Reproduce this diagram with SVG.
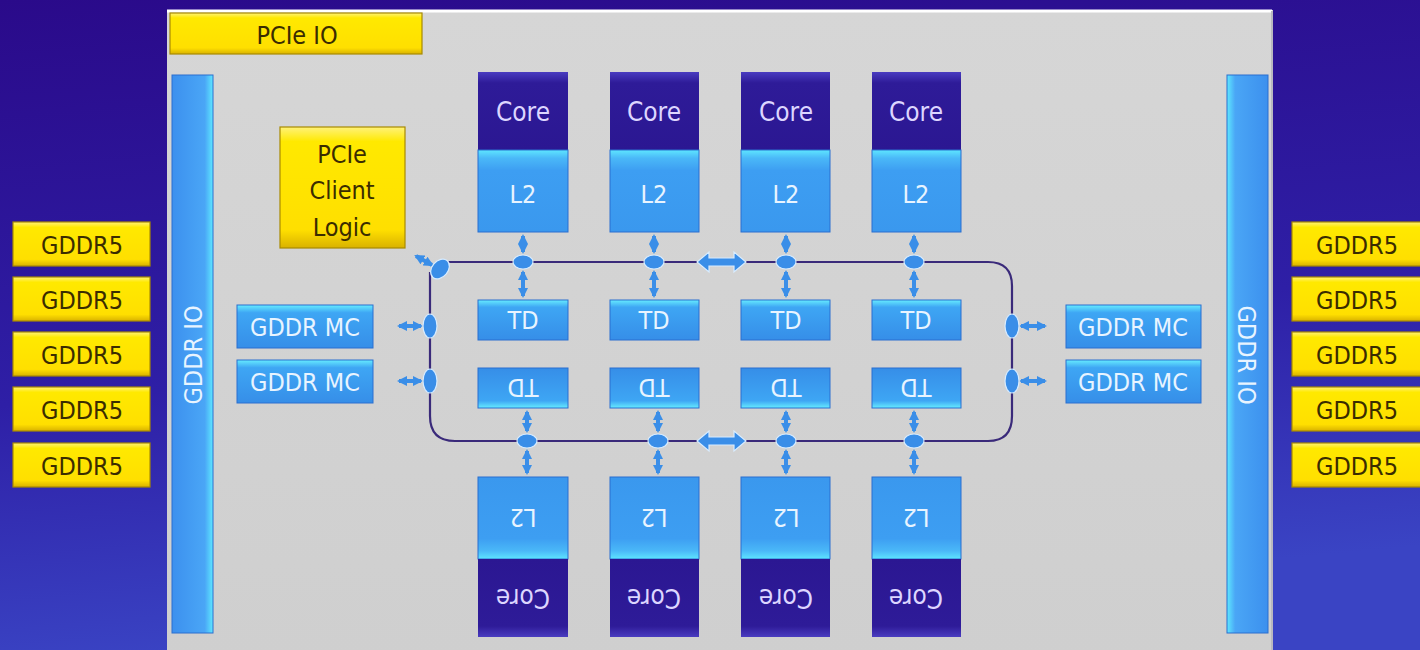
<svg xmlns="http://www.w3.org/2000/svg" width="1420" height="650" viewBox="0 0 1420 650">
<defs>
<linearGradient id="bg" x1="0" y1="0" x2="0.2" y2="1">
<stop offset="0" stop-color="#2a0a8a"/>
<stop offset="0.6" stop-color="#2e1fa6"/>
<stop offset="1" stop-color="#3a44c4"/>
</linearGradient>
<linearGradient id="die" x1="0" y1="0" x2="0" y2="1">
<stop offset="0" stop-color="#d6d6d6"/>
<stop offset="1" stop-color="#cfcfcf"/>
</linearGradient>
<linearGradient id="yel" x1="0" y1="0" x2="0" y2="1">
<stop offset="0" stop-color="#fff27a"/>
<stop offset="0.12" stop-color="#ffe900"/>
<stop offset="0.85" stop-color="#ffdf00"/>
<stop offset="1" stop-color="#d9b200"/>
</linearGradient>
<linearGradient id="core" x1="0" y1="0" x2="0" y2="1">
<stop offset="0" stop-color="#4a3cc0"/>
<stop offset="0.14" stop-color="#2e1b98"/>
<stop offset="1" stop-color="#2b1792"/>
</linearGradient>
<linearGradient id="coreB" x1="0" y1="1" x2="0" y2="0">
<stop offset="0" stop-color="#4a3cc0"/>
<stop offset="0.14" stop-color="#2e1b98"/>
<stop offset="1" stop-color="#2b1792"/>
</linearGradient>
<linearGradient id="l2" x1="0" y1="0" x2="0" y2="1">
<stop offset="0" stop-color="#5ee6ff"/>
<stop offset="0.1" stop-color="#4ab8f8"/>
<stop offset="0.25" stop-color="#3d9ef2"/>
<stop offset="1" stop-color="#3a98ee"/>
</linearGradient>
<linearGradient id="l2B" x1="0" y1="1" x2="0" y2="0">
<stop offset="0" stop-color="#5ee6ff"/>
<stop offset="0.1" stop-color="#4ab8f8"/>
<stop offset="0.25" stop-color="#3d9ef2"/>
<stop offset="1" stop-color="#3a98ee"/>
</linearGradient>
<linearGradient id="td" x1="0" y1="0" x2="0" y2="1">
<stop offset="0" stop-color="#66ecff"/>
<stop offset="0.18" stop-color="#3ea6f4"/>
<stop offset="1" stop-color="#368ee8"/>
</linearGradient>
<linearGradient id="tdB" x1="0" y1="1" x2="0" y2="0">
<stop offset="0" stop-color="#66ecff"/>
<stop offset="0.18" stop-color="#3ea6f4"/>
<stop offset="1" stop-color="#368ee8"/>
</linearGradient>
<linearGradient id="ioL" x1="0" y1="0" x2="1" y2="0">
<stop offset="0" stop-color="#3c90ee"/>
<stop offset="0.8" stop-color="#4aa6f6"/>
<stop offset="1" stop-color="#5ee8ff"/>
</linearGradient>
<linearGradient id="ioR" x1="0" y1="0" x2="1" y2="0">
<stop offset="0" stop-color="#5ee8ff"/>
<stop offset="0.2" stop-color="#4aa6f6"/>
<stop offset="1" stop-color="#3c90ee"/>
</linearGradient>
<marker id="ah" viewBox="0 0 10 10" refX="8" refY="5" markerWidth="10" markerHeight="10" markerUnits="userSpaceOnUse" orient="auto-start-reverse">
<path d="M0,0 L10,5 L0,10 Z" fill="#3a8ee8"/>
</marker>
<style>
.yb{fill:url(#yel);stroke:#a88a00;stroke-width:1.2}
.yt{font-family:"DejaVu Sans Condensed","DejaVu Sans",sans-serif;font-stretch:condensed;font-size:25px;fill:#3a2c00;text-anchor:middle}
.wt{font-family:"DejaVu Sans Condensed","DejaVu Sans",sans-serif;font-stretch:condensed;font-size:25px;fill:#e8f4ff;text-anchor:middle}
.ct{font-family:"DejaVu Sans Condensed","DejaVu Sans",sans-serif;font-stretch:condensed;font-size:26px;fill:#ddd6ff;text-anchor:middle}
.bs{stroke:#2a6fd0;stroke-width:1}
.ring{fill:none;stroke:#3a2a7a;stroke-width:2.2}
.arr{stroke:#3a8ee8;stroke-width:4;fill:none;marker-start:url(#ah);marker-end:url(#ah)}
.nub{fill:#3a8ee8;stroke:#d8ecff;stroke-width:1.2}
</style>
</defs>

<rect x="0" y="0" width="1420" height="650" fill="url(#bg)"/>

<g id="die">
<rect x="167" y="10" width="1106" height="645" fill="url(#die)"/>
<line x1="167" y1="11" x2="1272" y2="11" stroke="#ffffff" stroke-width="3"/>
<line x1="1272" y1="11" x2="1272" y2="650" stroke="#b8b8c0" stroke-width="2"/>
</g>

<g id="pcie-io">
<rect class="yb" x="170" y="13" width="252" height="41"/>
<text class="yt" x="297" y="44">PCIe IO</text>
</g>

<g id="gddr-io-left">
<rect x="172" y="75" width="41" height="558" fill="url(#ioL)" stroke="#2a6fd0" stroke-width="1"/>
<text class="wt" transform="translate(202,355) rotate(-90)" x="0" y="0">GDDR IO</text>
</g>
<g id="gddr-io-right">
<rect x="1227" y="75" width="41" height="558" fill="url(#ioR)" stroke="#2a6fd0" stroke-width="1"/>
<text class="wt" transform="translate(1238,355) rotate(90)" x="0" y="0">GDDR IO</text>
</g>

<g id="gddr5-left">
<rect class="yb" x="13" y="222" width="137" height="44"/><text class="yt" x="82" y="254">GDDR5</text>
<rect class="yb" x="13" y="277" width="137" height="44"/><text class="yt" x="82" y="309">GDDR5</text>
<rect class="yb" x="13" y="332" width="137" height="44"/><text class="yt" x="82" y="364">GDDR5</text>
<rect class="yb" x="13" y="387" width="137" height="44"/><text class="yt" x="82" y="419">GDDR5</text>
<rect class="yb" x="13" y="443" width="137" height="44"/><text class="yt" x="82" y="475">GDDR5</text>
</g>
<g id="gddr5-right">
<rect class="yb" x="1292" y="222" width="130" height="44"/><text class="yt" x="1357" y="254">GDDR5</text>
<rect class="yb" x="1292" y="277" width="130" height="44"/><text class="yt" x="1357" y="309">GDDR5</text>
<rect class="yb" x="1292" y="332" width="130" height="44"/><text class="yt" x="1357" y="364">GDDR5</text>
<rect class="yb" x="1292" y="387" width="130" height="44"/><text class="yt" x="1357" y="419">GDDR5</text>
<rect class="yb" x="1292" y="443" width="130" height="44"/><text class="yt" x="1357" y="475">GDDR5</text>
</g>

<g id="pcie-client-logic">
<rect class="yb" x="280" y="127" width="125" height="121"/>
<text class="yt" x="342" y="163">PCIe</text>
<text class="yt" x="342" y="199">Client</text>
<text class="yt" x="342" y="236">Logic</text>
</g>

<g id="core-top-1"><rect x="478" y="72" width="90" height="78" fill="url(#core)"/><rect class="bs" x="478" y="150" width="90" height="82" fill="url(#l2)"/><text class="ct" x="523" y="121">Core</text><text class="wt" x="523" y="203">L2</text></g>
<g id="core-top-2"><rect x="610" y="72" width="89" height="78" fill="url(#core)"/><rect class="bs" x="610" y="150" width="89" height="82" fill="url(#l2)"/><text class="ct" x="654" y="121">Core</text><text class="wt" x="654" y="203">L2</text></g>
<g id="core-top-3"><rect x="741" y="72" width="89" height="78" fill="url(#core)"/><rect class="bs" x="741" y="150" width="89" height="82" fill="url(#l2)"/><text class="ct" x="786" y="121">Core</text><text class="wt" x="786" y="203">L2</text></g>
<g id="core-top-4"><rect x="872" y="72" width="89" height="78" fill="url(#core)"/><rect class="bs" x="872" y="150" width="89" height="82" fill="url(#l2)"/><text class="ct" x="916" y="121">Core</text><text class="wt" x="916" y="203">L2</text></g>

<g id="td-top-1"><rect class="bs" x="478" y="300" width="90" height="40" fill="url(#td)"/><text class="wt" x="523" y="329">TD</text></g>
<g id="td-top-2"><rect class="bs" x="610" y="300" width="89" height="40" fill="url(#td)"/><text class="wt" x="654" y="329">TD</text></g>
<g id="td-top-3"><rect class="bs" x="741" y="300" width="89" height="40" fill="url(#td)"/><text class="wt" x="786" y="329">TD</text></g>
<g id="td-top-4"><rect class="bs" x="872" y="300" width="89" height="40" fill="url(#td)"/><text class="wt" x="916" y="329">TD</text></g>

<g id="td-bot-1"><rect class="bs" x="478" y="368" width="90" height="40" fill="url(#tdB)"/><text class="wt" transform="rotate(180 523 388)" x="523" y="397">TD</text></g>
<g id="td-bot-2"><rect class="bs" x="610" y="368" width="89" height="40" fill="url(#tdB)"/><text class="wt" transform="rotate(180 654 388)" x="654" y="397">TD</text></g>
<g id="td-bot-3"><rect class="bs" x="741" y="368" width="89" height="40" fill="url(#tdB)"/><text class="wt" transform="rotate(180 786 388)" x="786" y="397">TD</text></g>
<g id="td-bot-4"><rect class="bs" x="872" y="368" width="89" height="40" fill="url(#tdB)"/><text class="wt" transform="rotate(180 916 388)" x="916" y="397">TD</text></g>

<g id="core-bot-1"><rect class="bs" x="478" y="477" width="90" height="82" fill="url(#l2B)"/><rect x="478" y="559" width="90" height="78" fill="url(#coreB)"/><text class="wt" transform="rotate(180 523 518)" x="523" y="527">L2</text><text class="ct" transform="rotate(180 523 598)" x="523" y="607">Core</text></g>
<g id="core-bot-2"><rect class="bs" x="610" y="477" width="89" height="82" fill="url(#l2B)"/><rect x="610" y="559" width="89" height="78" fill="url(#coreB)"/><text class="wt" transform="rotate(180 654 518)" x="654" y="527">L2</text><text class="ct" transform="rotate(180 654 598)" x="654" y="607">Core</text></g>
<g id="core-bot-3"><rect class="bs" x="741" y="477" width="89" height="82" fill="url(#l2B)"/><rect x="741" y="559" width="89" height="78" fill="url(#coreB)"/><text class="wt" transform="rotate(180 786 518)" x="786" y="527">L2</text><text class="ct" transform="rotate(180 786 598)" x="786" y="607">Core</text></g>
<g id="core-bot-4"><rect class="bs" x="872" y="477" width="89" height="82" fill="url(#l2B)"/><rect x="872" y="559" width="89" height="78" fill="url(#coreB)"/><text class="wt" transform="rotate(180 916 518)" x="916" y="527">L2</text><text class="ct" transform="rotate(180 916 598)" x="916" y="607">Core</text></g>

<g id="gddr-mc-left">
<rect class="bs" x="237" y="305" width="136" height="43" fill="url(#td)"/><text class="wt" x="305" y="336">GDDR MC</text>
<rect class="bs" x="237" y="360" width="136" height="43" fill="url(#td)"/><text class="wt" x="305" y="391">GDDR MC</text>
</g>
<g id="gddr-mc-right">
<rect class="bs" x="1066" y="305" width="135" height="43" fill="url(#td)"/><text class="wt" x="1133" y="336">GDDR MC</text>
<rect class="bs" x="1066" y="360" width="135" height="43" fill="url(#td)"/><text class="wt" x="1133" y="391">GDDR MC</text>
</g>

<g id="connectors">
<path class="ring" d="M440 262 H988 Q1012 262 1012 286 V416 Q1012 441 988 441 H455 Q430 441 430 416 V272"/>
<line class="arr" x1="523" y1="236" x2="523" y2="252"/>
<line class="arr" x1="523" y1="272" x2="523" y2="296"/>
<ellipse class="nub" cx="523" cy="262" rx="10" ry="7"/>
<line class="arr" x1="654" y1="236" x2="654" y2="252"/>
<line class="arr" x1="654" y1="272" x2="654" y2="296"/>
<ellipse class="nub" cx="654" cy="262" rx="10" ry="7"/>
<line class="arr" x1="786" y1="236" x2="786" y2="252"/>
<line class="arr" x1="786" y1="272" x2="786" y2="296"/>
<ellipse class="nub" cx="786" cy="262" rx="10" ry="7"/>
<line class="arr" x1="914" y1="236" x2="914" y2="252"/>
<line class="arr" x1="914" y1="272" x2="914" y2="296"/>
<ellipse class="nub" cx="914" cy="262" rx="10" ry="7"/>
<line class="arr" x1="527" y1="412" x2="527" y2="431"/>
<line class="arr" x1="527" y1="451" x2="527" y2="473"/>
<ellipse class="nub" cx="527" cy="441" rx="10" ry="7"/>
<line class="arr" x1="658" y1="412" x2="658" y2="431"/>
<line class="arr" x1="658" y1="451" x2="658" y2="473"/>
<ellipse class="nub" cx="658" cy="441" rx="10" ry="7"/>
<line class="arr" x1="786" y1="412" x2="786" y2="431"/>
<line class="arr" x1="786" y1="451" x2="786" y2="473"/>
<ellipse class="nub" cx="786" cy="441" rx="10" ry="7"/>
<line class="arr" x1="914" y1="412" x2="914" y2="431"/>
<line class="arr" x1="914" y1="451" x2="914" y2="473"/>
<ellipse class="nub" cx="914" cy="441" rx="10" ry="7"/>
<polygon class="nub" points="697,262 709,252 709,258 734,258 734,252 746,262 734,272 734,266 709,266 709,272"/>
<polygon class="nub" points="697,441 709,431 709,437 734,437 734,431 746,441 734,451 734,445 709,445 709,451"/>
<line class="arr" x1="399" y1="326" x2="421" y2="326"/>
<ellipse class="nub" cx="430" cy="326" rx="7" ry="12"/>
<line class="arr" x1="399" y1="381" x2="421" y2="381"/>
<ellipse class="nub" cx="430" cy="381" rx="7" ry="12"/>
<line class="arr" x1="1021" y1="326" x2="1045" y2="326"/>
<ellipse class="nub" cx="1012" cy="326" rx="7" ry="12"/>
<line class="arr" x1="1021" y1="381" x2="1045" y2="381"/>
<ellipse class="nub" cx="1012" cy="381" rx="7" ry="12"/>
<line class="arr" x1="416" y1="256" x2="432" y2="265"/>
<ellipse class="nub" cx="440" cy="269" rx="8" ry="11" transform="rotate(40 440 269)"/>
</g>
</svg>
